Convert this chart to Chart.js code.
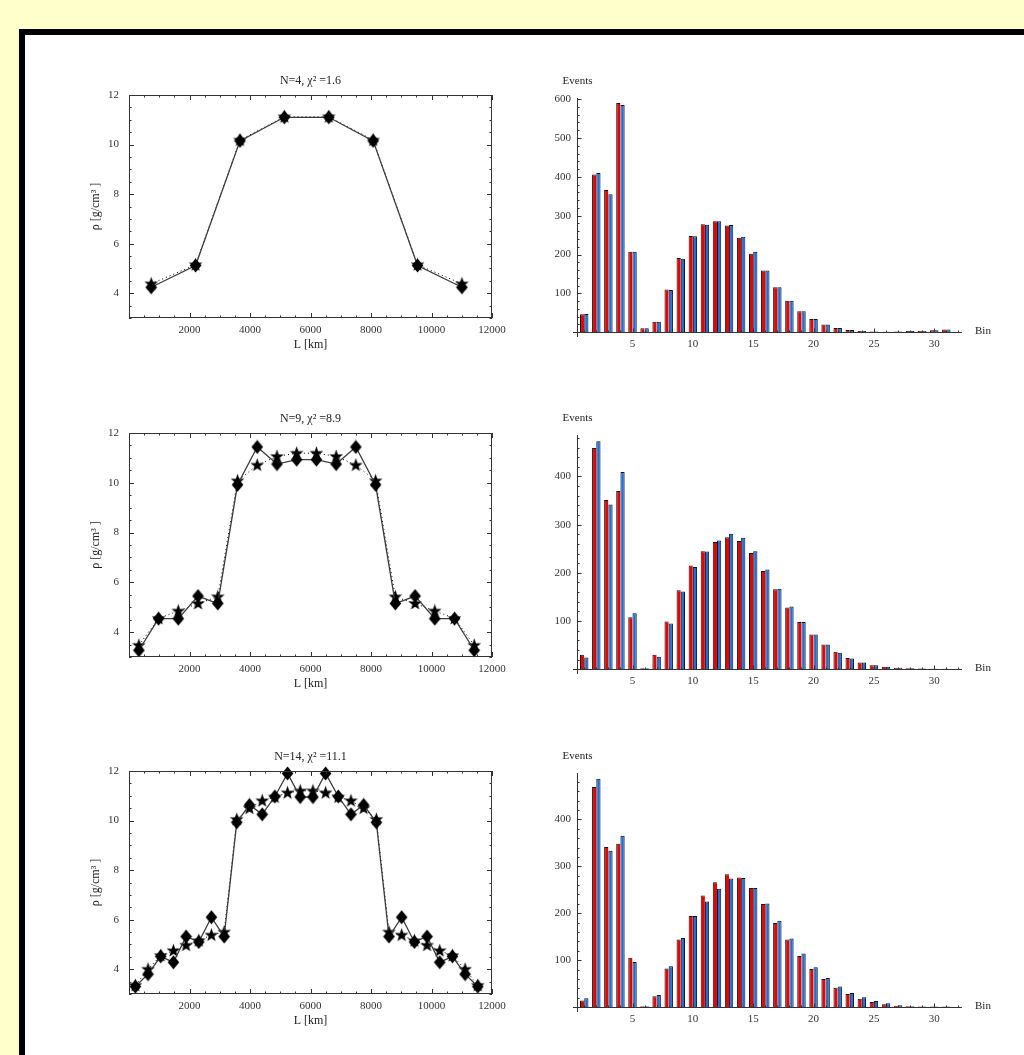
<!DOCTYPE html>
<html><head><meta charset="utf-8">
<script src="https://cdn.jsdelivr.net/npm/chart.js@4.4.1/dist/chart.umd.min.js"></script>
<style>
html,body{margin:0;padding:0;width:1024px;height:1055px;overflow:hidden;background:#ffffcc;}
#frame{position:absolute;left:19px;top:29px;width:1100px;height:1100px;border:6px solid #000;background:#fff;}
canvas{position:absolute;}
</style></head><body>
<div id="frame"></div>
<script>
// ---------------- data ----------------
const titles = ['N=4, χ² =1.6', 'N=9, χ² =8.9', 'N=14, χ² =11.1'];
const xTitle = 'L [km]';
const yTitle = 'ρ [g/cm³ ]';
const lTicks = [2000, 4000, 6000, 8000, 10000, 12000];
const rhoTicks = [4, 6, 8, 10, 12];

const L4 = [734, 2201, 3669, 5136, 6604, 8071, 9539, 11006];
const rhoFit4 = [4.24, 5.12, 10.15, 11.1, 11.1, 10.15, 5.12, 4.24];
const rhoTrue4 = [4.38, 5.15, 10.18, 11.12, 11.12, 10.18, 5.15, 4.38];

const L9 = [326, 978, 1630, 2283, 2935, 3587, 4239, 4891, 5543, 6196, 6848, 7500, 8152, 8804, 9457, 10109, 10761, 11413];
const rhoFit9 = [3.27, 4.54, 4.54, 5.45, 5.15, 9.92, 11.44, 10.75, 10.93, 10.93, 10.75, 11.44, 9.92, 5.15, 5.45, 4.54, 4.54, 3.27];
const rhoTrue9 = [3.47, 4.55, 4.85, 5.15, 5.42, 10.08, 10.71, 11.06, 11.19, 11.19, 11.06, 10.71, 10.08, 5.42, 5.15, 4.85, 4.55, 3.47];

const L14 = [210, 629, 1048, 1468, 1887, 2306, 2725, 3145, 3564, 3983, 4403, 4822, 5241, 5660, 6080, 6499, 6918, 7337, 7757, 8176, 8595, 9014, 9434, 9853, 10272, 10691, 11111, 11530];
const rhoFit14 = [3.3, 3.8, 4.52, 4.28, 5.32, 5.1, 6.1, 5.32, 9.93, 10.63, 10.25, 10.97, 11.9, 10.95, 10.95, 11.9, 10.97, 10.25, 10.63, 9.93, 5.32, 6.1, 5.1, 5.32, 4.28, 4.52, 3.8, 3.3];
const rhoTrue14 = [3.35, 4.0, 4.55, 4.75, 4.97, 5.15, 5.38, 5.5, 10.05, 10.5, 10.8, 10.95, 11.12, 11.2, 11.2, 11.12, 10.95, 10.8, 10.5, 10.05, 5.5, 5.38, 5.15, 4.97, 4.75, 4.55, 4.0, 3.35];

const bins = [1, 2, 3, 4, 5, 6, 7, 8, 9, 10, 11, 12, 13, 14, 15, 16, 17, 18, 19, 20, 21, 22, 23, 24, 25, 26, 27, 28, 29, 30, 31];
const binTicks = [5, 10, 15, 20, 25, 30];
const evRed4 = [46, 406, 366, 590, 207, 10, 27, 110, 191, 248, 278, 286, 275, 243, 202, 159, 116, 81, 54, 34, 20, 11, 6, 3, 2, 1, 2, 3, 4, 5, 7];
const evBlue4 = [47, 410, 355, 585, 207, 10, 27, 109, 189, 247, 277, 286, 276, 246, 207, 159, 116, 81, 54, 34, 20, 11, 6, 3, 2, 1, 2, 3, 4, 5, 7];
const evRed9 = [30, 459, 351, 370, 108, 2, 30, 99, 164, 215, 245, 264, 274, 266, 241, 204, 166, 128, 98, 72, 51, 36, 23, 14, 8, 5, 3, 2, 1.5, 1, 1];
const evBlue9 = [24, 473, 342, 409, 116, 2, 26, 95, 161, 212, 244, 267, 281, 273, 245, 207, 167, 130, 98, 72, 51, 34, 22, 14, 8, 5, 3, 2, 1.5, 1, 1];
const evRed14 = [14, 469, 341, 348, 105, 2, 23, 82, 144, 194, 238, 266, 283, 276, 254, 220, 179, 144, 109, 81, 60, 41, 28, 18, 11, 6, 3, 2, 1, 1, 1];
const evBlue14 = [19, 487, 333, 365, 96, 2, 26, 87, 147, 194, 225, 252, 274, 275, 254, 221, 184, 146, 114, 85, 62, 44, 30, 21, 13, 8, 4, 2, 1, 1, 1];
const evTicks4 = [100, 200, 300, 400, 500, 600];
const evTicks9 = [100, 200, 300, 400];
const evTicks14 = [100, 200, 300, 400];
const evLabel = 'Events';
const binLabel = 'Bin';

// ---------------- style ----------------
const FONT = "'Liberation Serif', 'Times New Roman', serif";
Chart.defaults.font.family = FONT;
Chart.defaults.font.size = 11;
Chart.defaults.color = '#333';
Chart.defaults.animation = false;
const RED = '#e00606';
const BLUE = '#1a72e2';
const AX = '#333';

function addCanvas(left, top, w, h) {
  const c = document.createElement('canvas');
  c.width = w; c.height = h;
  c.style.left = left + 'px'; c.style.top = top + 'px';
  c.style.width = w + 'px'; c.style.height = h + 'px';
  document.body.appendChild(c);
  return c;
}
function makeStar() {
  const c = document.createElement('canvas'); c.width = 15; c.height = 15;
  const g = c.getContext('2d'); g.beginPath();
  for (let i = 0; i < 10; i++) {
    const r = i % 2 ? 2.9 : 7.2; const a = -Math.PI / 2 + i * Math.PI / 5;
    g.lineTo(7.5 + r * Math.cos(a), 7.8 + r * Math.sin(a));
  }
  g.closePath(); g.fillStyle = '#000'; g.fill(); return c;
}
function makeDiamond() {
  const c = document.createElement('canvas'); c.width = 13; c.height = 15;
  const g = c.getContext('2d'); g.beginPath();
  g.moveTo(6.5, 0.5); g.lineTo(12.3, 7.5); g.lineTo(6.5, 14.5); g.lineTo(0.7, 7.5); g.closePath();
  g.fillStyle = '#000'; g.fill(); return c;
}
const starImg = makeStar();
const diamondImg = makeDiamond();

const fixY = w => s => { s.width = w; s.paddingTop = 0; s.paddingBottom = 0; };
const fixX = h => s => { s.height = h; s.paddingLeft = 0; s.paddingRight = 0; };
const setTicks = vals => s => { s.ticks = vals.map(v => ({ value: v })); };
const noGrid = { display: false, drawTicks: false, drawOnChartArea: false };

const framePlugin = {
  id: 'frameTicks',
  afterDraw(chart) {
    const { ctx, chartArea: a, scales: { x, y } } = chart;
    ctx.save();
    ctx.strokeStyle = AX; ctx.lineWidth = 1;
    ctx.strokeRect(Math.round(a.left) + 0.5, Math.round(a.top) + 0.5, Math.round(a.right - a.left) - 1, Math.round(a.bottom - a.top) - 1);
    ctx.beginPath();
    for (let v = 0; v <= 12000; v += 500) {
      const len = v % 2000 === 0 ? 5 : 2.5;
      const px = Math.round(x.getPixelForValue(v)) + 0.5;
      ctx.moveTo(px, a.bottom); ctx.lineTo(px, a.bottom - len);
      ctx.moveTo(px, a.top); ctx.lineTo(px, a.top + len);
    }
    for (let v = 3; v <= 12; v += 0.5) {
      const len = v % 2 === 0 ? 5 : 2.5;
      const py = Math.round(y.getPixelForValue(v)) + 0.5;
      ctx.moveTo(a.left, py); ctx.lineTo(a.left + len, py);
      ctx.moveTo(a.right, py); ctx.lineTo(a.right - len, py);
    }
    ctx.stroke(); ctx.restore();
  }
};

const barAxesPlugin = {
  id: 'barAxes',
  afterDatasetsDraw(chart) {
    const { ctx, chartArea: a, scales: { x, y } } = chart;
    const y0 = Math.round(y.getPixelForValue(0)) + 0.5;
    const xa = Math.round(x.getPixelForValue(0.44)) + 0.5;
    ctx.save();
    ctx.strokeStyle = AX; ctx.lineWidth = 1;
    ctx.beginPath();
    ctx.moveTo(a.left, y0); ctx.lineTo(a.right, y0);
    ctx.moveTo(xa, a.bottom); ctx.lineTo(xa, a.top);
    for (let v = 1; v <= 32; v += 1) {
      const len = v % 5 === 0 ? 4 : 2;
      const px = Math.round(x.getPixelForValue(v)) + 0.5;
      ctx.moveTo(px, y0); ctx.lineTo(px, y0 - len);
    }
    for (let v = 20; v <= y.max; v += 20) {
      const len = v % 100 === 0 ? 4 : 2;
      const py = Math.round(y.getPixelForValue(v)) + 0.5;
      ctx.moveTo(xa, py); ctx.lineTo(xa + len, py);
    }
    ctx.stroke();
    ctx.fillStyle = '#222';
    ctx.font = '11px ' + FONT;
    ctx.textAlign = 'center'; ctx.textBaseline = 'middle';
    ctx.fillText(evLabel, xa, a.top - 17);
    ctx.textAlign = 'left';
    ctx.fillText(binLabel, a.right + 13, y0 - 1);
    ctx.restore();
  }
};

function lineChart(title, L, fit, tru, top, bottom) {
  const cTop = top - 22;
  const c = addCanvas(60, cTop, 450, bottom - top + 22 + 40);
  new Chart(c, {
    type: 'scatter',
    data: {
      datasets: [
        { data: L.map((x, i) => ({ x, y: fit[i] })), showLine: true, borderColor: '#3c3c3c', borderWidth: 1.3,
          pointStyle: diamondImg, pointRadius: 5, clip: false },
        { data: L.map((x, i) => ({ x, y: tru[i] })), showLine: true, borderColor: '#000', borderWidth: 1,
          borderDash: [1, 3], pointStyle: starImg, pointRadius: 5, clip: false }
      ]
    },
    options: {
      responsive: false, animation: false, events: [],
      layout: { padding: { left: 0, right: 18, top: 0, bottom: 0 } },
      plugins: {
        legend: { display: false }, tooltip: { enabled: false },
        title: { display: true, text: title, fullSize: false, color: '#222',
          font: { family: FONT, size: 12, weight: 'normal' }, padding: { top: 0.8, bottom: 6.8 } }
      },
      scales: {
        x: { type: 'linear', min: 0, max: 12000, grid: noGrid, border: { display: false },
          afterBuildTicks: setTicks(lTicks), afterFit: fixX(40),
          ticks: { padding: 6, maxRotation: 0, autoSkip: false, callback: v => String(v) },
          title: { display: true, text: xTitle, color: '#222', font: { family: FONT, size: 12 }, padding: { top: 0, bottom: 5.8 } } },
        y: { type: 'linear', min: 3, max: 12, grid: noGrid, border: { display: false },
          afterBuildTicks: setTicks(rhoTicks), afterFit: fixY(69),
          ticks: { padding: 10, autoSkip: false, callback: v => String(v) },
          title: { display: true, text: yTitle, color: '#222', font: { family: FONT, size: 12 }, padding: { top: 28.3, bottom: 0 } } }
      }
    },
    plugins: [framePlugin]
  });
}

function barChart(red, blue, ticks, ymin, ymax, top, bottom) {
  const c = addCanvas(530, top - 30, 494, bottom - top + 30 + 25);
  new Chart(c, {
    type: 'bar',
    data: {
      datasets: [
        { data: bins.map((b, i) => ({ x: b, y: red[i] })), backgroundColor: RED, borderColor: '#111',
          borderWidth: { top: 1, left: 1, right: 0, bottom: 0 }, categoryPercentage: 0.7, barPercentage: 1 },
        { data: bins.map((b, i) => ({ x: b, y: blue[i] })), backgroundColor: BLUE, borderColor: '#111',
          borderWidth: { top: 1, left: 1, right: 1, bottom: 0 }, categoryPercentage: 0.7, barPercentage: 1 }
      ]
    },
    options: {
      responsive: false, animation: false, events: [],
      layout: { padding: { left: 0, right: 62, top: 30, bottom: 0 } },
      plugins: { legend: { display: false }, tooltip: { enabled: false } },
      scales: {
        x: { type: 'linear', min: 0.07, max: 32.3, offset: false, grid: { display: false, drawTicks: false, offset: false }, border: { display: false },
          afterBuildTicks: setTicks(binTicks), afterFit: fixX(25),
          ticks: { padding: 1, maxRotation: 0, autoSkip: false, callback: v => String(v) } },
        y: { type: 'linear', min: ymin, max: ymax, grid: noGrid, border: { display: false },
          afterBuildTicks: setTicks(ticks), afterFit: fixY(43),
          ticks: { padding: 2, autoSkip: false, callback: v => String(v) } }
      }
    },
    plugins: [barAxesPlugin]
  });
}

lineChart(titles[0], L4, rhoFit4, rhoTrue4, 95, 318);
lineChart(titles[1], L9, rhoFit9, rhoTrue9, 433, 657);
lineChart(titles[2], L14, rhoFit14, rhoTrue14, 771, 994);

barChart(evRed4, evBlue4, evTicks4, -12.3, 603, 98, 337);
barChart(evRed9, evBlue9, evTicks9, -10, 486, 435, 674);
barChart(evRed14, evBlue14, evTicks14, -10.5, 499, 773, 1012);
</script>
</body></html>
